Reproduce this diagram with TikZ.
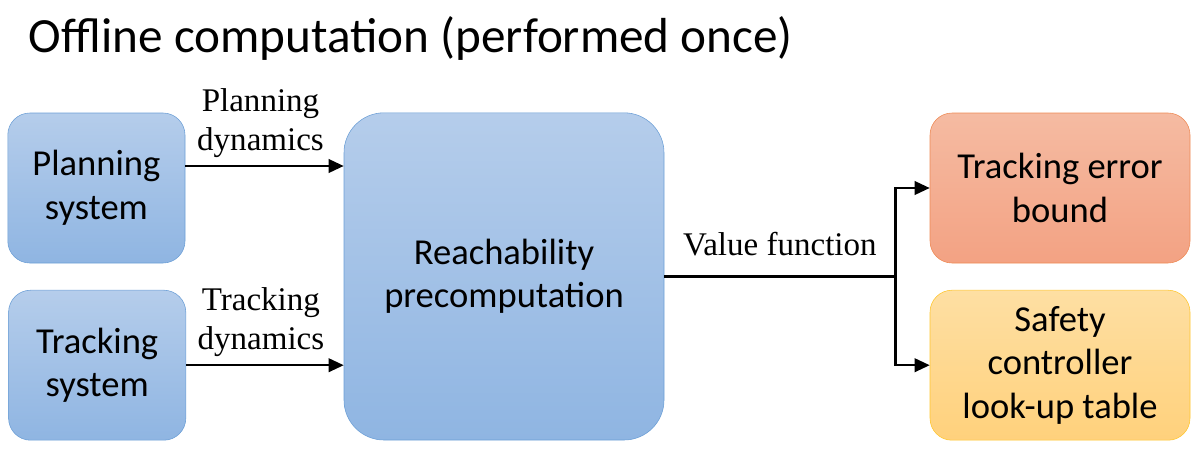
\documentclass[tikz,border=0pt]{standalone}
\usepackage{fontspec}
\setmainfont{Liberation Serif}
\newfontfamily\boxfont{Carlito}
\usetikzlibrary{arrows.meta,positioning}
\definecolor{BlueTop}{HTML}{B5CDEB}
\definecolor{BlueBot}{HTML}{8FB5E2}
\definecolor{BlueLine}{HTML}{6C9FD6}
\definecolor{PeachTop}{HTML}{F5BBA2}
\definecolor{PeachBot}{HTML}{F3A283}
\definecolor{PeachLine}{HTML}{EE8A55}
\definecolor{SandTop}{HTML}{FEDFA3}
\definecolor{SandBot}{HTML}{FFD17C}
\definecolor{SandLine}{HTML}{FFC62E}

\tikzset{
  sysbox/.style={draw=BlueLine,top color=BlueTop,bottom color=BlueBot,
    rounded corners=0.55cm,minimum width=4.43cm,minimum height=3.75cm,
    align=center,font=\boxfont\fontsize{26}{31}\selectfont},
  flow/.style={-{Triangle[length=0.38cm,width=0.34cm]},line width=1.7pt},
  lbl/.style={font=\fontsize{23.5}{27.5}\selectfont,align=center,inner sep=2pt}
}

\begin{document}
\begin{tikzpicture}
    \useasboundingbox (0,0) rectangle (30,-11.25);
    \node[anchor=base west,font=\boxfont\fontsize{35}{40}\selectfont]
      (title) at (0.6,-1.3) {Offline computation (performed once)};
    % inputs
    \node[sysbox] (plan) at (2.41,-4.70) {Planning\\system};
    \node[sysbox] (track) at (2.43,-9.13) {Tracking\\system};
    % precomputation
    \node[sysbox,rounded corners=1cm,minimum width=8cm,minimum height=8.18cm]
      (reach) at (12.6,-6.91) {Reachability\\precomputation};
    % outputs
    \node[sysbox,draw=PeachLine,top color=PeachTop,bottom color=PeachBot,
          minimum width=6.5cm] (bound) at (26.5,-4.70) {Tracking error\\bound};
    \node[sysbox,draw=SandLine,top color=SandTop,bottom color=SandBot,
          minimum width=6.5cm] (safety) at (26.5,-9.13)
      {Safety\\controller\\look-up table};
    \draw[flow] ([yshift=0.55cm]plan.east) -- ([yshift=0.55cm]plan.east -| reach.west)
      node[midway,above,lbl,yshift=0.12cm,xshift=-0.1cm]{Planning\\dynamics};
    \draw[flow] (track.east) -- (track.east -| reach.west)
      node[midway,above,lbl,yshift=0.12cm,xshift=-0.1cm]{Tracking\\dynamics};
    \draw[line width=1.7pt] (reach.east) -- ++(5.78,0) coordinate (split)
      node[midway,above,lbl,yshift=0.4cm]{Value function};
    \draw[flow] (split) |- (bound.west);
    \draw[flow] (split) |- (safety.west);
  \end{tikzpicture}
\end{document}
